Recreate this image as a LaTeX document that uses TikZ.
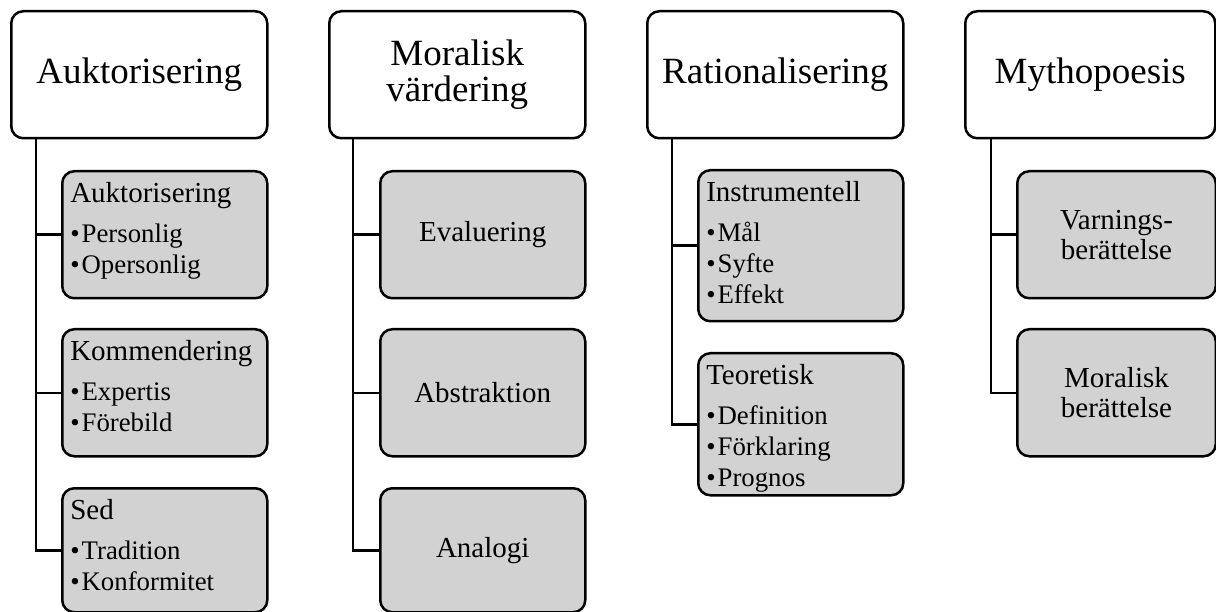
\documentclass[tikz,border=0pt]{standalone}
\usepackage{fontspec}
\setmainfont{Liberation Serif}
\usepackage{xcolor}
\definecolor{boxgray}{RGB}{210,210,210}

\begin{document}
\begin{tikzpicture}[x=1pt, y=-1pt,
    headbox/.style={draw, line width=2.5pt, rounded corners=12pt, fill=white,
        minimum width=256pt, minimum height=127pt, align=center,
        font=\fontsize{37}{36}\selectfont, anchor=north west},
    catbox/.style={draw, line width=2.5pt, rounded corners=12pt, fill=boxgray,
        minimum width=205pt, minimum height=127pt, align=center,
        font=\fontsize{29}{30}\selectfont, anchor=north west},
    listbox/.style={draw, line width=2.5pt, rounded corners=12pt, fill=boxgray,
        text width=189pt, inner xsep=8pt, inner ysep=0pt, text height=31pt,
        text depth=#1pt, align=left, font=\fontsize{26.8}{31}\selectfont,
        anchor=north west},
    conn/.style={line width=2.5pt}]
    \useasboundingbox (0,0) rectangle (1216,612);

    % Auktorisering
    \node[headbox] (auk) at (10,10) {Auktorisering};
    \node[listbox=96] (auk1) at (61,170) {{\fontsize{29}{31}\selectfont Auktorisering}\\[9pt]
        \textbullet\hspace{2pt}Personlig\\ \textbullet\hspace{2pt}Opersonlig};
    \node[listbox=96] (auk2) at (61,328) {{\fontsize{29}{31}\selectfont Kommendering}\\[9pt]
        \textbullet\hspace{2pt}Expertis\\ \textbullet\hspace{2pt}Förebild};
    \node[listbox=93] (auk3) at (61,487) {{\fontsize{29}{31}\selectfont Sed}\\[9pt]
        \textbullet\hspace{2pt}Tradition\\ \textbullet\hspace{2pt}Konformitet};
    \foreach \c in {auk1,auk2,auk3}
        \draw[conn] (auk.south west) ++(26,0) |- (\c.west);

    % Moralisk vardering
    \node[headbox] (mor) at (328,10) {Moralisk\\värdering};
    \node[catbox] (mor1) at (379,170) {Evaluering};
    \node[catbox] (mor2) at (379,328) {Abstraktion};
    \node[catbox, minimum height=124pt] (mor3) at (379,487) {Analogi};
    \foreach \c in {mor1,mor2,mor3}
        \draw[conn] (mor.south west) ++(25,0) |- (\c.west);

    % Rationalisering
    \node[headbox] (rat) at (646,10) {Rationalisering};
    \node[listbox=120] (rat1) at (697,169) {{\fontsize{29}{31}\selectfont Instrumentell}\\[9pt]
        \textbullet\hspace{2pt}Mål\\ \textbullet\hspace{2pt}Syfte\\ \textbullet\hspace{2pt}Effekt};
    \node[listbox=111] (rat2) at (697,352) {{\fontsize{29}{31}\selectfont Teoretisk}\\[9pt]
        \textbullet\hspace{2pt}Definition\\ \textbullet\hspace{2pt}Förklaring\\ \textbullet\hspace{2pt}Prognos};
    \foreach \c in {rat1,rat2}
        \draw[conn] (rat.south west) ++(26,0) |- (\c.west);

    % Mythopoesis
    \node[headbox, minimum width=250pt] (myt) at (964,10) {Mythopoesis};
    \node[catbox, minimum width=198.5pt] (myt1) at (1016,170) {Varnings-\\berättelse};
    \node[catbox, minimum width=198.5pt] (myt2) at (1016,328) {Moralisk\\berättelse};
    \foreach \c in {myt1,myt2}
        \draw[conn] (myt.south west) ++(27,0) |- (\c.west);
\end{tikzpicture}
\end{document}
